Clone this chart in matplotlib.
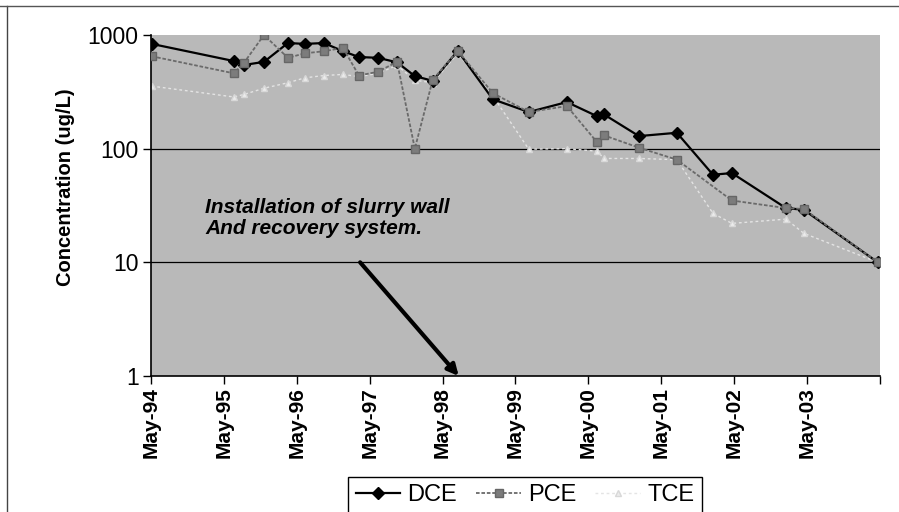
import pandas as pd
import matplotlib.pyplot as plt
from matplotlib.lines import Line2D

plt.rcParams['font.family'] = ['Liberation Sans', 'DejaVu Sans']

# sampling dates (DCE and TCE share them, PCE has no Jan-02 sample)
dce_dates = ["1994-05-05", "1995-06-20", "1995-08-10", "1995-11-18", "1996-03-17",
             "1996-06-10", "1996-09-14", "1996-12-18", "1997-03-08", "1997-06-11",
             "1997-09-15", "1997-12-13", "1998-03-13", "1998-07-16", "1999-01-08",
             "1999-07-07", "2000-01-14", "2000-06-13", "2000-07-18", "2001-01-09",
             "2001-07-18", "2002-01-15", "2002-04-20", "2003-01-16", "2003-04-15",
             "2004-04-20"]
dce_vals = [835, 590, 545, 580, 850, 835, 850, 720, 640, 630, 575, 435, 395, 725,
            272, 210, 257, 193, 200, 129, 138, 59, 61, 30, 29, 10]

pce_dates = [d for d in dce_dates if d != "2002-01-15"]
pce_vals = [650, 460, 570, 1000, 630, 690, 720, 770, 440, 475, 580, 100, 405, 725,
            308, 210, 237, 114, 131, 102, 80, 35, 30, 29.5, 10]

tce_dates = dce_dates
tce_vals = [355, 285, 300, 340, 380, 420, 440, 450, 430, 460, 540, 400, 380, 690,
            290, 99, 100, 95, 82, 82, 80, 27, 22, 24, 18, 10]

tick_years = list(range(1994, 2005))
y_ticks = [1, 10, 100, 1000]

fig = plt.figure(figsize=(8.99, 5.12), dpi=100)
ax = fig.add_axes([151 / 899, 1 - 376 / 512, 729 / 899, 341 / 512])
ax.set_facecolor('#b9b9b9')

ax.plot(pd.to_datetime(dce_dates), dce_vals, color='black', lw=1.6,
        marker='D', ms=6, mfc='black', mec='black', label='DCE', zorder=3)
ax.plot(pd.to_datetime(pce_dates), pce_vals, color='#6a6a6a', lw=1.3, ls=(0, (2, 1)),
        marker='s', ms=6, mfc='#7c7c7c', mec='#666666', label='PCE', zorder=4)
ax.plot(pd.to_datetime(tce_dates), tce_vals, color='#e4e4e4', lw=1.0, ls=(0, (2, 2)),
        marker='^', ms=5, mfc='#ececec', mec='#d8d8d8', label='TCE', zorder=2)

ax.set_yscale('log')
ax.set_ylim(1, 1000)
ax.set_yticks(y_ticks)
ax.set_yticklabels([str(v) for v in y_ticks], fontsize=16.5)
ax.minorticks_off()
ax.set_xlim(pd.Timestamp("1994-05-01"), pd.Timestamp("2004-05-01"))
xt = [pd.Timestamp(f"{y}-05-01") for y in tick_years]
ax.set_xticks(xt)
ax.set_xticklabels([t.strftime("%b-%y") for t in xt[:-1]] + [''],
                   rotation=90, fontsize=15, fontweight='bold')
ax.tick_params(direction='out', length=6, width=1, color='black')
ax.tick_params(axis='x', pad=2)
ax.tick_params(axis='y', pad=3)

for v in [10, 100]:
    ax.axhline(v, color='black', lw=0.9, zorder=1)

for s in ['top', 'right']:
    ax.spines[s].set_visible(False)
for s in ['left', 'bottom']:
    ax.spines[s].set_color('black')
    ax.spines[s].set_linewidth(1.2)

ax.set_ylabel("Concentration (ug/L)", fontsize=14.5, fontweight='bold')
ax.yaxis.set_label_coords(-0.104, 0.554)

fig.text(205 / 899, 1 - 198 / 512, "Installation of slurry wall\nAnd recovery system.",
         fontsize=15, fontweight='bold', fontstyle='italic', va='top', ha='left',
         linespacing=1.15)
ax.annotate("", xy=(pd.Timestamp("1998-07-21"), 1), xytext=(pd.Timestamp("1997-03-14"), 10),
            arrowprops=dict(arrowstyle='-|>', lw=3, color='black', mutation_scale=16,
                            shrinkA=0, shrinkB=0), annotation_clip=False, zorder=6)

leg = ax.legend(loc='upper center', bbox_to_anchor=(525 / 899, 1 - 477 / 512),
                bbox_transform=fig.transFigure, borderaxespad=0, ncol=3, fontsize=17,
                frameon=True, fancybox=False, edgecolor='black', framealpha=1,
                handlelength=1.9, columnspacing=0.8, handletextpad=0.3, borderpad=0.3)
leg.get_frame().set_linewidth(1.0)

# scanned page border
fig.add_artist(Line2D([7 / 899, 7 / 899], [0, 1 - 6 / 512], transform=fig.transFigure,
                      color='#444444', lw=1))
fig.add_artist(Line2D([0, 1], [1 - 6 / 512, 1 - 6 / 512], transform=fig.transFigure,
                      color='#555555', lw=1))

fig.savefig("out.png", dpi=100)
